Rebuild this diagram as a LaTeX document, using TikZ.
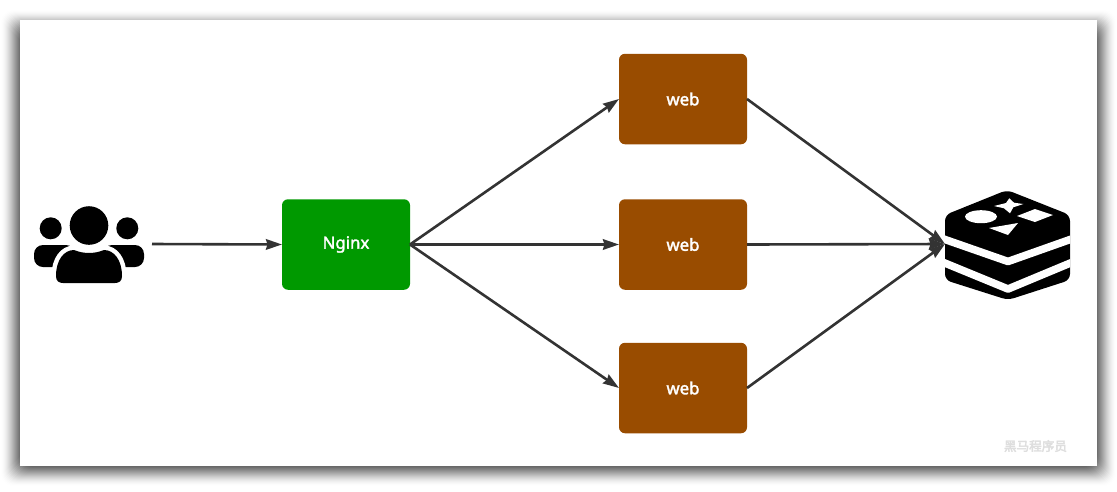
\documentclass[tikz,border=0pt]{standalone}
\usepackage{fontspec}
\setmainfont{Noto Sans}
\newfontfamily\lblfont{Noto Sans}[FakeBold=2]
\newfontfamily\cjkwm{Noto Sans CJK SC}[FakeBold=3]
\usetikzlibrary{arrows.meta}
\definecolor{lnk}{HTML}{333333}
\definecolor{grn}{HTML}{009900}
\definecolor{brn}{HTML}{994C00}
\tikzset{
  box/.style={rectangle,rounded corners=6pt,minimum width=128pt,minimum height=90.5pt,outer sep=0pt,inner sep=0pt,text=white,font=\lblfont\fontsize{16.8pt}{18pt}\selectfont},
  webbox/.style={box,fill=brn},
  nginxbox/.style={box,fill=grn},
  iconbox/.style={rectangle,minimum height=90pt,outer sep=0pt,inner sep=0pt},
  link/.style={draw=lnk,line width=2.6pt,-{Stealth[inset=1.5pt,length=16pt,width=10.5pt]}},
  glyph/.style={fill=black,draw=none},
  gap/.style={draw=white,line join=round},
}
\begin{document}
\begin{tikzpicture}[x=1pt,y=-1pt]
\useasboundingbox (0,0) rectangle (1117,491);
\fill[white] (0,0) rectangle (1117,491);
% shadow
\foreach \i in {1,...,20}{
  \pgfmathsetmacro{\s}{20-\i}
  \pgfmathsetmacro{\op}{0.0040*\i}
  \fill[black,opacity=\op,rounded corners=12pt] (20-\s,29-\s) rectangle (1097+\s,467+\s);
}
\fill[white] (20,20) rectangle (1097,466);
% users icon
\fill[glyph] (50.7,228.3) circle[radius=11];
\fill[glyph] (127.3,228.3) circle[radius=11];
\fill[glyph,rounded corners=9pt] (34,267) -- (34,245) -- (75,245) -- (75,267) -- cycle;
\fill[glyph,rounded corners=9pt] (103,267) -- (103,245) -- (144,245) -- (144,267) -- cycle;
\fill[glyph] (89,225.5) circle[radius=19.3];
\path[glyph,draw=white,line width=9pt] (56,276) .. controls (56,260) and (64,250) .. (74,250) .. controls (84,254) and (94,254) .. (104,250) .. controls (114,250) and (122,260) .. (122,276) .. controls (122,281) and (119,283) .. (115,283) -- (63,283) .. controls (59,283) and (56,281) .. (56,276) -- cycle;
\fill[glyph] (56,276) .. controls (56,260) and (64,250) .. (74,250) .. controls (84,254) and (94,254) .. (104,250) .. controls (114,250) and (122,260) .. (122,276) .. controls (122,281) and (119,283) .. (115,283) -- (63,283) .. controls (59,283) and (56,281) .. (56,276) -- cycle;
\node[iconbox,minimum width=126pt] (users) at (89,244) {};
% redis icon
\begin{scope}
\clip (945,185) rectangle (1070,300);
\fill[glyph,rounded corners=6pt] (1007,190) -- (1070,215) -- (1070,280) -- (1008,300) -- (945,280) -- (945,215) -- cycle;
\draw[gap,line width=7.6pt] (935,236) -- (1008,261.5) -- (1080,236);
\draw[gap,line width=7.6pt] (935,259) -- (1008,289) -- (1080,259);
\end{scope}
\fill[white] (981,216.7) ellipse[x radius=16,y radius=6.5];
\fill[white] (1053,215) -- (1035,209) -- (1017,216) -- (1035,222) -- cycle;
\fill[white] (989,228) -- (1018,223) -- (1008,235) -- cycle;
\fill[white] (1009.3,198.3) -- (1014,202.7) -- (1023.3,204) -- (1013.3,207.3) -- (1010,213.3) -- (1004,208.3) -- (994,206) -- (1006,203) -- cycle;
\node[iconbox,minimum width=124pt] (redis) at (1007,244) {};
% boxes
\node[nginxbox] (nginx) at (346,244.5) {Nginx};
\node[webbox] (w1) at (683,99) {web};
\node[webbox] (w2) at (683,244.5) {web};
\node[webbox] (w3) at (683,388) {web};
% links
\draw[link] (users.east) -- (nginx.west);
\draw[link] (nginx.east) -- (w1.west);
\draw[link] (nginx.east) -- (w2.west);
\draw[link] (nginx.east) -- (w3.west);
\draw[link] (w1.east) -- (redis.west);
\draw[link] (w2.east) -- (redis.west);
\draw[link] (w3.east) -- (redis.west);
% watermark
\node[text=black!13,font=\cjkwm\fontsize{12.6pt}{14pt}\selectfont,inner sep=0pt] (mark) at (1035.5,446) {黑马程序员};
\end{tikzpicture}
\end{document}
